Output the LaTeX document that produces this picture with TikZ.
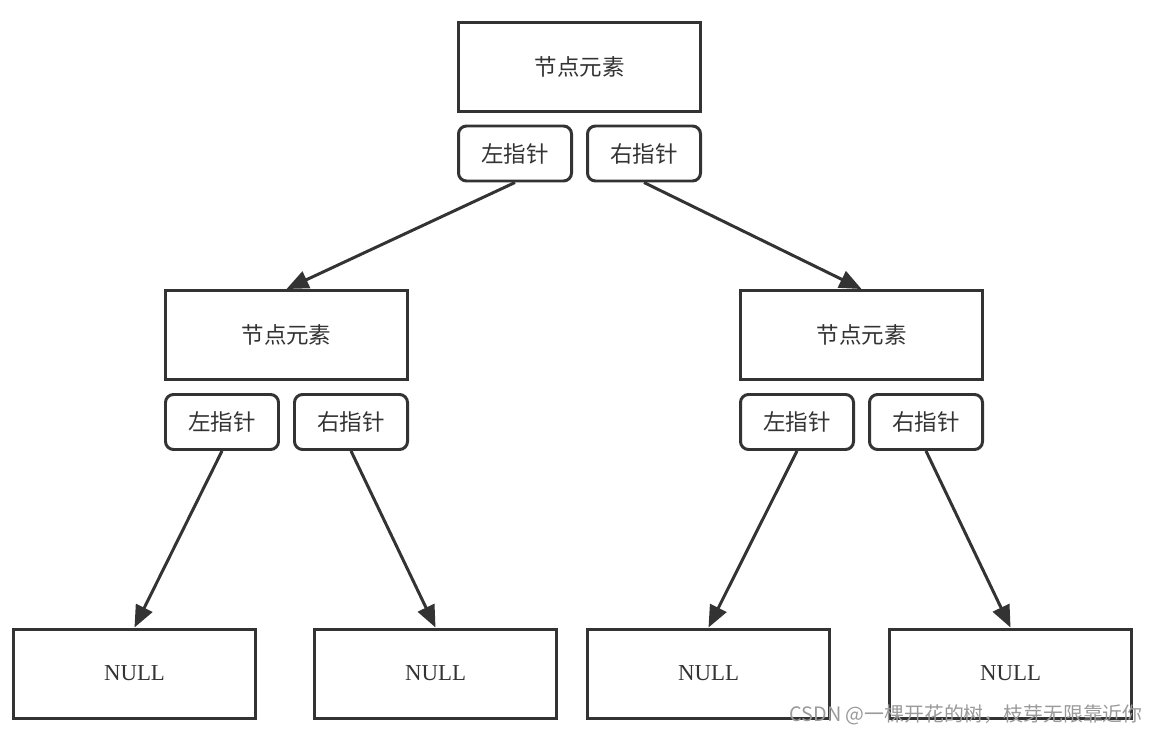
\documentclass[tikz,border=0pt]{standalone}
\usepackage{fontspec}
\setmainfont{Liberation Serif}
\newfontfamily\cjk{Noto Sans CJK SC}
\usepackage{tikz}
\usetikzlibrary{positioning}
\usetikzlibrary{arrows.meta}
\definecolor{linegray}{HTML}{333333}
\definecolor{markgray}{HTML}{9A9A9A}

\begin{document}
\begin{tikzpicture}[
    elem/.style={draw=linegray, line width=1.7pt, minimum width=4.84cm, minimum height=1.78cm, text=linegray, font=\cjk\fontsize{12.8}{15}\selectfont},
    nullbox/.style={draw=linegray, line width=1.7pt, minimum width=4.84cm, minimum height=1.78cm, text=linegray, font=\fontsize{13}{15}\selectfont},
    ptr/.style={draw=linegray, line width=1.7pt, rounded corners=0.16cm, minimum width=2.26cm, minimum height=1.1cm, text=linegray, font=\cjk\fontsize{12.8}{15}\selectfont},
    link/.style={draw=linegray, line width=1.7pt, -{Triangle[length=0.44cm, width=0.36cm]}}
]
        \useasboundingbox (0,0) rectangle (23.16,-14.68);
        % root
        \node [elem] (root) at (11.59,-1.33) {节点元素};
        \node [ptr, below right=0.24cm and 0cm of root.south west] (rootl) {左指针};
        \node [ptr, below left=0.24cm and 0cm of root.south east] (rootr) {右指针};
        % second level
        \node [elem] (left) at (5.73,-6.70) {节点元素};
        \node [ptr, below right=0.24cm and 0cm of left.south west] (leftl) {左指针};
        \node [ptr, below left=0.24cm and 0cm of left.south east] (leftr) {右指针};
        \node [elem] (right) at (17.23,-6.70) {节点元素};
        \node [ptr, below right=0.24cm and 0cm of right.south west] (rightl) {左指针};
        \node [ptr, below left=0.24cm and 0cm of right.south east] (rightr) {右指针};
        % leaves
        \node [nullbox] (null1) at (2.69,-13.47) {NULL};
        \node [nullbox] (null2) at (8.71,-13.47) {NULL};
        \node [nullbox] (null3) at (14.17,-13.47) {NULL};
        \node [nullbox] (null4) at (20.21,-13.47) {NULL};
        % links
        \draw [link] (rootl.south) -- (left.north);
        \draw [link] (rootr.south) -- (right.north);
        \draw [link] (leftl.south) -- (null1.north);
        \draw [link] (leftr.south) -- (null2.north);
        \draw [link] (rightl.south) -- (null3.north);
        \draw [link] (rightr.south) -- (null4.north);
        % watermark
        \node [anchor=east, text=markgray, font=\cjk\fontsize{11.3}{13}\selectfont, inner sep=0pt] (mark) at (22.86,-14.3) {CSDN @一棵开花的树，枝芽无限靠近你};
\end{tikzpicture}
\end{document}
